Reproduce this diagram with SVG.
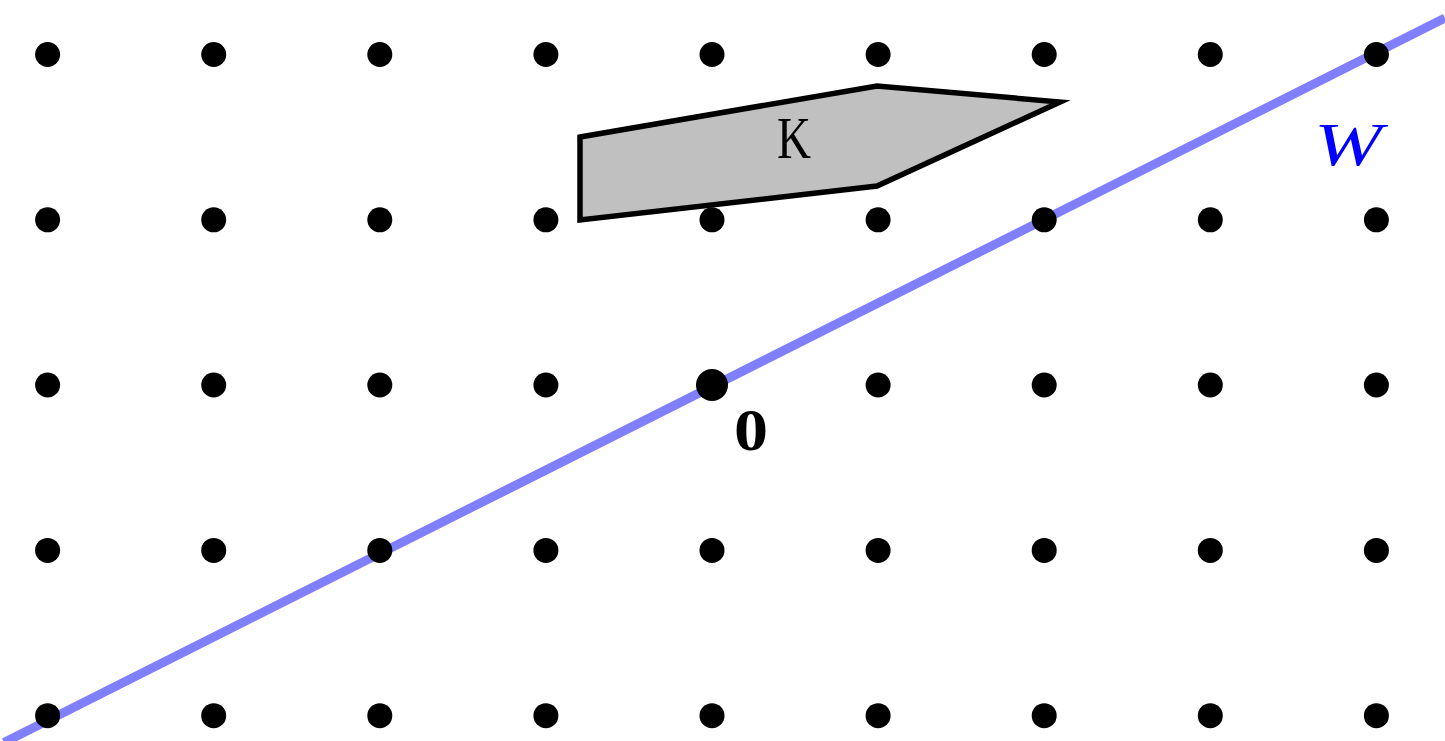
<svg xmlns="http://www.w3.org/2000/svg" width="1445" height="741" viewBox="0 0 1445 741">
<style>
.d{fill:#000}
.lbl{font-family:"Liberation Serif",serif;fill:#000}
</style>
<rect width="1445" height="741" fill="#fff"/>
<g id="connectors">
<line x1="4" y1="742.5" x2="1445" y2="18" stroke="#8080ff" stroke-width="9"/>
</g>
<g id="K">
<polygon points="580,137 877,86 1060,102 877,186 580,220" fill="#c0c0c0" stroke="#000" stroke-width="5.5" stroke-linejoin="miter"/>
<text class="lbl" x="777" y="158" font-size="60" textLength="34" lengthAdjust="spacingAndGlyphs">K</text>
</g>
<g id="W">
<text x="1314" y="165" font-family="Liberation Serif,serif" font-style="italic" font-size="62" fill="#0000ff" textLength="68" lengthAdjust="spacingAndGlyphs">W</text>
</g>
<g id="lattice">
<circle class="d" cx="47.6" cy="54.5" r="12.5"/><circle class="d" cx="213.7" cy="54.5" r="12.5"/><circle class="d" cx="379.8" cy="54.5" r="12.5"/><circle class="d" cx="545.9" cy="54.5" r="12.5"/><circle class="d" cx="712" cy="54.5" r="12.5"/><circle class="d" cx="878.1" cy="54.5" r="12.5"/><circle class="d" cx="1044.2" cy="54.5" r="12.5"/><circle class="d" cx="1210.3" cy="54.5" r="12.5"/><circle class="d" cx="1376.4" cy="54.5" r="12.5"/>
<circle class="d" cx="47.6" cy="219.8" r="12.5"/><circle class="d" cx="213.7" cy="219.8" r="12.5"/><circle class="d" cx="379.8" cy="219.8" r="12.5"/><circle class="d" cx="545.9" cy="219.8" r="12.5"/><circle class="d" cx="712" cy="219.8" r="12.5"/><circle class="d" cx="878.1" cy="219.8" r="12.5"/><circle class="d" cx="1044.2" cy="219.8" r="12.5"/><circle class="d" cx="1210.3" cy="219.8" r="12.5"/><circle class="d" cx="1376.4" cy="219.8" r="12.5"/>
<circle class="d" cx="47.6" cy="385" r="12.5"/><circle class="d" cx="213.7" cy="385" r="12.5"/><circle class="d" cx="379.8" cy="385" r="12.5"/><circle class="d" cx="545.9" cy="385" r="12.5"/><circle class="d" cx="878.1" cy="385" r="12.5"/><circle class="d" cx="1044.2" cy="385" r="12.5"/><circle class="d" cx="1210.3" cy="385" r="12.5"/><circle class="d" cx="1376.4" cy="385" r="12.5"/>
<circle class="d" cx="47.6" cy="550.4" r="12.5"/><circle class="d" cx="213.7" cy="550.4" r="12.5"/><circle class="d" cx="379.8" cy="550.4" r="12.5"/><circle class="d" cx="545.9" cy="550.4" r="12.5"/><circle class="d" cx="712" cy="550.4" r="12.5"/><circle class="d" cx="878.1" cy="550.4" r="12.5"/><circle class="d" cx="1044.2" cy="550.4" r="12.5"/><circle class="d" cx="1210.3" cy="550.4" r="12.5"/><circle class="d" cx="1376.4" cy="550.4" r="12.5"/>
<circle class="d" cx="47.6" cy="715.7" r="12.5"/><circle class="d" cx="213.7" cy="715.7" r="12.5"/><circle class="d" cx="379.8" cy="715.7" r="12.5"/><circle class="d" cx="545.9" cy="715.7" r="12.5"/><circle class="d" cx="712" cy="715.7" r="12.5"/><circle class="d" cx="878.1" cy="715.7" r="12.5"/><circle class="d" cx="1044.2" cy="715.7" r="12.5"/><circle class="d" cx="1210.3" cy="715.7" r="12.5"/><circle class="d" cx="1376.4" cy="715.7" r="12.5"/>
</g>
<g id="origin">
<circle class="d" cx="712" cy="385" r="16"/>
<text class="lbl" x="734" y="450" font-size="60" font-weight="bold" textLength="34" lengthAdjust="spacingAndGlyphs">0</text>
</g>
</svg>
